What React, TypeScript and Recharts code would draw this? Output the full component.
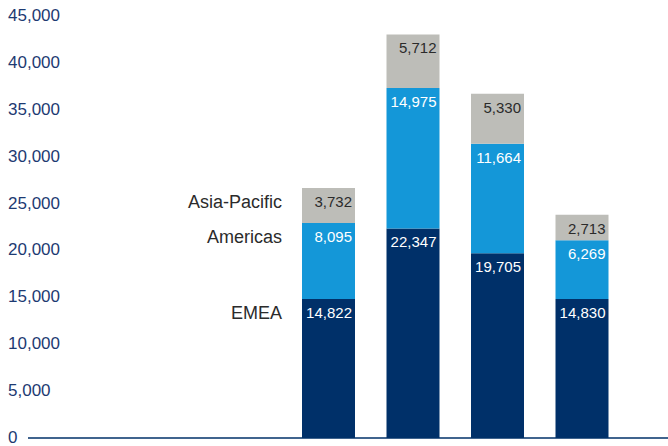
import { BarChart, Bar, XAxis, YAxis, LabelList } from "recharts";

const years = ["2019", "2020", "2021", "2022"];
const emea = [14822, 22347, 19705, 14830];
const americas = [8095, 14975, 11664, 6269];
const asiaPacific = [3732, 5712, 5330, 2713];
const yTicks = [0, 5000, 10000, 15000, 20000, 25000, 30000, 35000, 40000, 45000];

const data = years.map((year, i) => ({
  year,
  emea: emea[i],
  americas: americas[i],
  asiaPacific: asiaPacific[i],
}));

const NAVY = "#003069";
const BLUE = "#1497d8";
const GREY = "#bdbdb8";
const FONT = "'Liberation Sans', Arial, sans-serif";

const fmt = (v: number) => v.toLocaleString("en-US");

const YTick = ({ y, payload }: any) => (
  <text x={8} y={y} dy={5} fill="#1d3a72" fontSize={17} fontFamily={FONT} textAnchor="start">
    {fmt(payload.value)}
  </text>
);

const makeLabel = (name: string, color: string) => (props: any) => {
  const { x, y, width, value, index } = props;
  return (
    <g>
      <text x={x + width - 3} y={y + 19} textAnchor="end" fill={color} fontSize={15} fontFamily={FONT}>
        {fmt(value)}
      </text>
      {index === 0 && (
        <text x={x - 20} y={y + 20} textAnchor="end" fill="#2b2b2b" fontSize={18} fontFamily={FONT}>
          {name}
        </text>
      )}
    </g>
  );
};

export default function App() {
  return (
    <div style={{ width: 668, height: 446 }}>
      <style>{`body{margin:0}`}</style>
      <BarChart width={668} height={446} data={data} barSize={53} margin={{ top: 16, right: 0, bottom: 7, left: 0 }}>
        <XAxis
          dataKey="year"
          tick={false}
          tickLine={false}
          height={1}
          axisLine={{ stroke: NAVY, strokeWidth: 1.5 }}
          padding={{ left: 258, right: 44 }}
        />
        <YAxis
          width={28}
          domain={[0, 45000]}
          ticks={yTicks}
          interval={0}
          axisLine={false}
          tickLine={false}
          tick={<YTick />}
        />
        <Bar dataKey="emea" stackId="a" fill={NAVY} isAnimationActive={false}>
          <LabelList dataKey="emea" content={makeLabel("EMEA", "#ffffff")} />
        </Bar>
        <Bar dataKey="americas" stackId="a" fill={BLUE} isAnimationActive={false}>
          <LabelList dataKey="americas" content={makeLabel("Americas", "#ffffff")} />
        </Bar>
        <Bar dataKey="asiaPacific" stackId="a" fill={GREY} isAnimationActive={false}>
          <LabelList dataKey="asiaPacific" content={makeLabel("Asia-Pacific", "#2b2b2b")} />
        </Bar>
      </BarChart>
    </div>
  );
}
